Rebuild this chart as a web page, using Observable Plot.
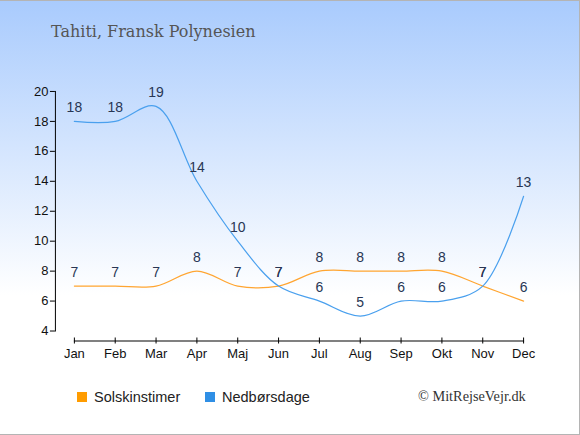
<!DOCTYPE html>
<html>
<head>
<meta charset="utf-8">
<script src="https://cdn.jsdelivr.net/npm/d3@7"></script>
<script src="https://cdn.jsdelivr.net/npm/@observablehq/plot@0.6"></script>
<style>
  html, body { margin: 0; padding: 0; }
  #wrap {
    position: relative; width: 580px; height: 435px; box-sizing: border-box;
    border: 1px solid #b4b4b4; border-left: none;
    background: linear-gradient(to bottom, #a9cbfd 0%, #ffffff 68%, #ffffff 100%);
    overflow: hidden;
  }
  #title {
    height: 60px; box-sizing: border-box; padding: 21px 0 0 51px;
    font-family: "DejaVu Serif", serif; font-size: 16px; color: #555;
  }
  #legend { position: relative; height: 64px; font-family: "Liberation Sans", Arial, sans-serif; font-size: 14.5px; color: #222; }
  .item { position: absolute; top: 19px; display: flex; align-items: center; }
  .sw { width: 10px; height: 10px; margin-right: 7px; }
  #copy { position: absolute; left: 418px; top: 18px; font-family: "Liberation Serif", serif; font-size: 14.3px; color: #333; }
  svg { display: block; }
  svg g[aria-label="y-axis tick label"], svg g[aria-label="x-axis tick label"] { font-size: 13px; }
</style>
</head>
<body>
<div id="wrap">
  <div id="title">Tahiti, Fransk Polynesien</div>
  <div id="chart"></div>
  <div id="legend">
    <div class="item" style="left:77px"><span class="sw" style="background:#ff9c00"></span>Solskinstimer</div>
    <div class="item" style="left:205px"><span class="sw" style="background:#2f8fe5"></span>Nedbørsdage</div>
    <div id="copy">© MitRejseVejr.dk</div>
  </div>
</div>
<script>
const months = ["Jan","Feb","Mar","Apr","Maj","Jun","Jul","Aug","Sep","Okt","Nov","Dec"];
const sunHours = [7,7,7,8,7,7,8,8,8,8,7,6];
const rainDays = [18,18,19,14,10,7,6,5,6,6,7,13];
const yTicks = [4,6,8,10,12,14,16,18,20];

const sunData = months.map((m, i) => ({month: m, value: sunHours[i]}));
const rainData = months.map((m, i) => ({month: m, value: rainDays[i]}));

const chart = Plot.plot({
  width: 580,
  height: 310,
  marginLeft: 55,
  marginRight: 56,
  marginTop: 30,
  marginBottom: 30,
  x: {type: "point", domain: months, range: [74, 524], padding: 0, round: false},
  y: {domain: [4, 20], range: [270, 30]},
  style: {background: "transparent", fontFamily: "'Liberation Sans', Arial, sans-serif", fontSize: "13px", color: "#111", overflow: "visible"},
  marks: [
    Plot.frame({anchor: "left", insetBottom: 10, stroke: "#000"}),
    Plot.frame({anchor: "bottom", insetLeft: 19, stroke: "#000"}),
    Plot.axisY({ticks: yTicks, tickSize: 5, tickPadding: 2, label: null, stroke: "#000", strokeOpacity: 1, fontSize: 13, fill: "#111"}),
    Plot.axisX({tickSize: 6, dy: -3, tickFormat: () => "", label: null, stroke: "#000", strokeOpacity: 1}),
    Plot.axisX({tickSize: 0, tickPadding: 8, label: null, fontSize: 13, fill: "#111"}),
    Plot.line(sunData, {x: "month", y: "value", stroke: "#ffa531", strokeWidth: 1.2, curve: "catmull-rom"}),
    Plot.line(rainData, {x: "month", y: "value", stroke: "#4aa0ee", strokeWidth: 1.2, curve: "catmull-rom"}),
    Plot.text(sunData, {x: "month", y: "value", text: "value", dy: -14, fill: "#283654", fontSize: 14}),
    Plot.text(rainData, {x: "month", y: "value", text: "value", dy: -14, fill: "#283654", fontSize: 14})
  ]
});
document.getElementById("chart").appendChild(chart);
</script>
</body>
</html>
